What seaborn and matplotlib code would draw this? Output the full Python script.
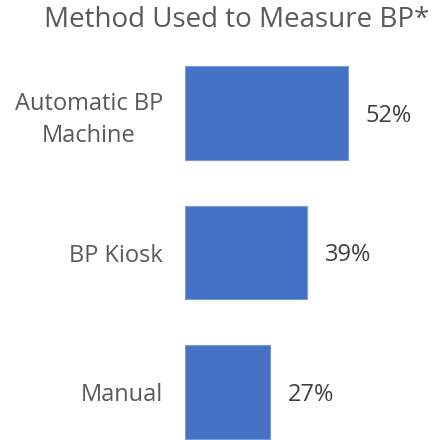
import matplotlib
matplotlib.use("Agg")
import matplotlib.pyplot as plt
import seaborn as sns
import pandas as pd

# podaci s grafa
metode = ["Automatic BP\nMachine", "BP Kiosk", "Manual"]
postotci = [52, 39, 27]

df = pd.DataFrame({"metoda": metode, "postotak": postotci})

sns.set_theme(style="white")
plt.rcParams["font.family"] = ["Open Sans", "DejaVu Sans"]

fig = plt.figure(figsize=(4.34, 4.40), dpi=100)
ax = fig.add_axes([185 / 434, 0.0, 249 / 434, 380 / 440])

sns.barplot(data=df, y="metoda", x="postotak", orient="h", color="#4472C4",
            saturation=1, width=0.67, edgecolor="#7A9BD8", linewidth=0.8, ax=ax)

ax.set_xlim(0, 249 / 3.13)
ax.set_ylim(2.344, -0.38)

for i, v in enumerate(postotci):
    ax.text(v + 5.8, i + 0.02, f"{v}%", va="center", ha="left", fontsize=17, color="#404040")

ax.set_xlabel("")
ax.set_ylabel("")
ax.set_xticks([])
ax.tick_params(axis="y", length=0, pad=16, labelsize=17, labelcolor="#595959")
for lbl in ax.get_yticklabels():
    lbl.set_multialignment("center")
    lbl.set_linespacing(1.45)
sns.despine(ax=ax, left=True, bottom=True)

fig.text(237 / 434, 1 - 20 / 440, "Method Used to Measure BP*", ha="center", va="center",
         fontsize=20, color="#595959")

fig.savefig("out.png", dpi=100)
